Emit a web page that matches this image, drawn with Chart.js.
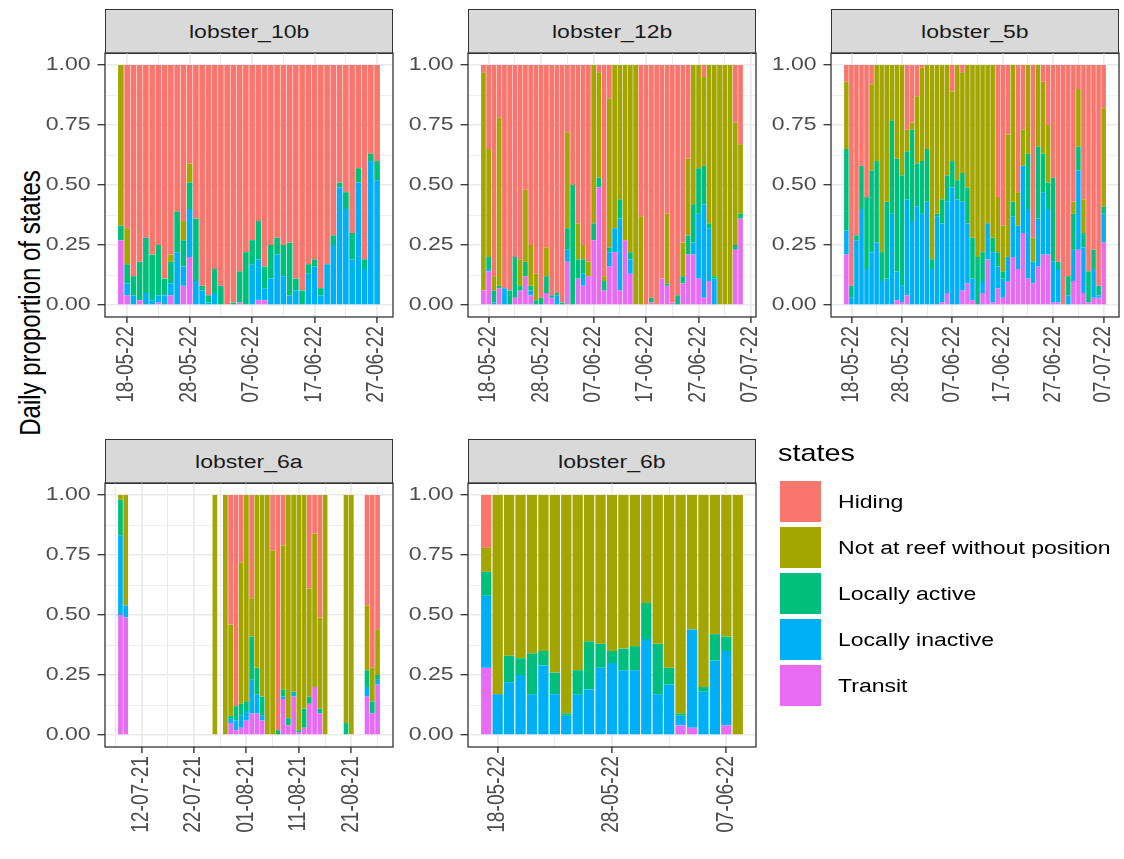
<!DOCTYPE html>
<html lang="en">
<head>
<meta charset="UTF-8" />
<title>Daily proportion of states</title>
<script src="https://cdn.jsdelivr.net/npm/chart.js"></script>
<style>
  body { margin: 0; background: #fff; font-family: 'Liberation Sans', Arial, sans-serif; }
  #page { position: relative; width: 1124px; height: 859px; overflow: hidden; background: #fff; }
  .box { position: absolute; }
  .strip {
    position: absolute; box-sizing: border-box; background: #D9D9D9;
    border: 1.3px solid #333333; color: #1A1A1A; font-size: 19.2px;
    display: flex; align-items: center; justify-content: center;
  }
  .wide { display: inline-block; transform: scaleX(1.2); white-space: nowrap; }
  #ytitle { position: absolute; width: 0; height: 0; }
  #ytitle span {
    position: absolute; left: 0; top: 0; font-size: 24px; color: #000; white-space: nowrap;
    transform: translate(-50%, -50%) scaleX(1.2) rotate(-90deg);
  }
  .key { position: absolute; width: 41px; height: 41px; }
  .keylabel { position: absolute; font-size: 19.2px; color: #000; transform-origin: left center; transform: translateY(-50%) scaleX(1.2); white-space: nowrap; }
  #legendtitle { position: absolute; font-size: 24px; color: #000; transform-origin: left center; transform: translateY(-50%) scaleX(1.2); }
</style>
</head>
<body>
<div id="page">
  <div id="ytitle"><span>Daily proportion of states</span></div>
</div>

<script>
// states, top of the stack first
const states = ['Hiding', 'Not at reef without position', 'Locally active', 'Locally inactive', 'Transit'];
const stateColors = ['#F8766D', '#A3A500', '#00BF7D', '#00B0F6', '#E76BF3'];

// lobster_10b, one value per day from 17-05-22
const first10b = '17-05-22';
const hiding10b   = [0,.68,.88,.82,.72,.79,.75,.89,.79,.61, .65,.41,.64,.92,.96,.85,.92,1,.99,.86, .78,.73,.65,.84,.75,.72,.75,.74,.89,.94, .83,.81,.93,.83,.71,.49,.53,.7,.43,.81, .37,.4];
const away10b     = [.67,.15,0,0,0,0,0,0,.03,0, .08,.08,0,0,0,0,0,0,0,0, 0,0,0,0,0,0,0,0,0,0, 0,0,0,0,0,0,0,0,0,0, 0,0];
const active10b   = [.06,.08,.08,.16,.23,.19,.21,.07,.09,.17, .11,.11,.26,.02,.03,.1,.08,0,.01,.13, .22,.1,.16,.09,.14,.07,.13,.22,.05,.06, .04,.03,.03,0,.04,.02,.07,.11,.06,.04, .03,.08];
const inactive10b = [0,.05,.04,0,.05,.02,.03,.04,.05,.22, .08,.2,.1,.06,.01,.05,0,0,0,0, 0,.17,.17,.05,.11,.21,.12,.04,.06,0, .13,.16,.04,.17,.25,.49,.4,.19,.51,.15, .6,.52];
const transit10b  = [.27,.04,0,.02,0,0,.01,0,.04,0, .08,.2,0,0,0,0,0,0,0,.01, 0,0,.02,.02,0,0,0,0,0,0, 0,0,0,0,0,0,0,0,0,0, 0,0];
const ticks10b = ['18-05-22', '28-05-22', '07-06-22', '17-06-22', '27-06-22'];

// lobster_12b, from 17-05-22
const first12b = '17-05-22';
const hiding12b   = [.03,.35,.88,.22,.93,.94,.8,.81,.52,.75, .87,.97,.76,.96,.95,.99,.28,.5,.66,.75, .82,0,.03,.88,.14,0,0,0,0,0, .63,1,.97,1,.89,.62,.99,.96,.74,.39, 0,0,.05,0,0,0,0,0,.24,.33];
const away12b     = [.91,.45,.06,.7,0,0,0,.11,.3,.17, .11,0,.12,0,0,0,.4,0,.15,.06, .06,.66,.44,.02,.62,.68,.56,.73,.78,1, .37,0,0,0,0,.29,0,0,.14,.32, .58,.43,.37,.66,.88,1,1,1,.51,.29];
const active12b   = [0,.05,.05,.01,0,.06,.17,.02,.06,.02, .02,.03,.07,.01,.01,.01,.09,.5,.08,.06, 0,.07,.04,.04,.02,0,.08,0,.03,0, 0,0,.02,0,0,.01,0,.04,.03,.08, .16,.19,.16,.02,.01,0,0,0,.02,.02];
const inactive12b = [0,.01,.01,0,.07,0,0,0,0,.02, 0,0,0,0,.04,0,.05,0,0,.05, 0,0,0,0,.06,.1,.3,0,.06,0, 0,0,0,0,0,0,0,0,0,0, .05,.27,.39,.22,.11,0,0,0,0,0];
const transit12b  = [.06,.14,0,.07,0,0,.03,.06,.12,.04, 0,0,.05,.03,0,0,.18,0,.11,.08, .12,.27,.49,.06,.16,.22,.06,.27,.13,0, 0,0,.01,0,.11,.08,.01,0,.09,.21, .21,.11,.03,.1,0,0,0,0,.23,.36];
const ticks12b = ['18-05-22', '28-05-22', '07-06-22', '17-06-22', '27-06-22', '07-07-22'];

// lobster_5b, from 17-05-22
const first5b = '17-05-22';
const hiding5b   = [.07,.92,.71,.42,.55,.08,0,0,0,0, 0,0,.27,.24,.13,.01,0,0,0,0, 0,.11,0,.03,0,0,0,0,0,0, .55,.67,.29,0,.53,.27,0,.72,0,.07, .25,.47,.82,1,.88,.57,.1,.56,.86,.77, .92,.18];
const away5b     = [.28,0,0,0,0,.36,.4,.78,.57,.23, .39,.46,.09,.03,.28,.39,.35,.81,.62,.56, .46,.29,.48,.42,.51,.72,.8,.78,.66,.72, .23,.19,.51,.57,.14,.15,.37,.1,.34,.3, .24,0,0,0,0,.05,.24,.14,0,0, 0,.41];
const active5b   = [.34,.05,.02,.18,.3,.34,.34,.12,.32,.39, .47,.46,.2,.38,.18,.22,.22,.04,.01,.1, .11,.11,.08,.12,.15,.17,.2,.12,0,.06, .06,.03,0,.06,0,0,.23,0,.3,.16, .11,.35,.03,0,.08,.15,.1,.06,.13,.08, .04,.03];
const inactive5b = [.1,.03,.27,.4,.15,.22,.26,.1,.11,.38, .12,.07,.4,.35,.41,.38,.43,.15,.37,.33, .38,.49,.44,.37,.25,.09,0,.05,.15,.21, .09,.08,.1,.17,.18,.28,.29,.09,.2,.26, .19,.17,.14,0,.04,.13,.33,.19,0,.12, .01,.12];
const transit5b  = [.21,0,0,0,0,0,0,0,0,0, .02,.01,.04,0,0,0,0,0,0,.01, .05,0,0,.06,.09,.02,0,.05,.19,.01, .07,.03,.1,.2,.15,.3,.11,.09,.16,.21, .21,.01,.01,0,0,.1,.23,.05,.01,.03, .03,.26];
const ticks5b = ['18-05-22', '28-05-22', '07-06-22', '17-06-22', '27-06-22', '07-07-22'];

// lobster_6a, only the days that were recorded
const days6a = ['08-07-21', '09-07-21', '26-07-21', '28-07-21', '29-07-21', '30-07-21', '31-07-21',
  '01-08-21', '02-08-21', '03-08-21', '04-08-21', '05-08-21', '06-08-21', '07-08-21', '08-08-21',
  '09-08-21', '10-08-21', '11-08-21', '12-08-21', '13-08-21', '14-08-21', '15-08-21', '16-08-21',
  '20-08-21', '21-08-21', '24-08-21', '25-08-21', '26-08-21'];
const hiding6a   = [0,0,0,0,.54,.88,.28, 0,.43,0,0,0,.23,.98,.21,0,0,0,0,.39,.16,.51,0, 0,0, .46,.72,.56];
const away6a     = [.02,.46,1,1,.38,0,.59, .86,.16,.72,.84,1,.77,0,.6,.93,.82,.98,.89,.45,.64,.38,1, .95,1, .27,.14,.19];
const active6a   = [.15,0,0,0,.01,.06,.05, .04,.18,.11,.08,0,0,.02,.03,.03,0,.01,.08,.03,0,.02,0, .05,0, .07,.05,.02];
const inactive6a = [.33,.05,0,0,.02,.04,.05, .04,.14,.08,.02,0,0,0,.01,0,.02,0,0,0,0,0,0, 0,0, .04,0,.02];
const transit6a  = [.5,.49,0,0,.05,.02,.03, .06,.09,.09,.06,0,0,0,.15,.04,.16,.01,.03,.13,.2,.09,0, 0,0, .16,.09,.21];
const ticks6a = ['12-07-21', '22-07-21', '01-08-21', '11-08-21', '21-08-21'];

// lobster_6b, from 17-05-22
const first6b = '17-05-22';
const hiding6b   = [.22,0,0,0,0,0,0,0,0,0, 0,0,0,0,0,0,0,0,0,0, 0,0,0];
const away6b     = [.1,.83,.67,.68,.66,.65,.74,.91,.73,.61, .62,.65,.64,.63,.45,.62,.72,.91,.56,.8, .58,.59,1];
const active6b   = [.1,0,.11,.07,.17,.06,.09,.01,.1,.2, .1,.05,.09,.1,.15,.21,.07,.01,0,.02, .11,.06,0];
const inactive6b = [.3,.17,.22,.25,.17,.29,.17,.08,.17,.19, .28,.3,.27,.27,.4,.17,.21,.04,.41,.18, .31,.31,0];
const transit6b  = [.28,0,0,0,0,0,0,0,0,0, 0,0,0,0,0,0,0,.04,.03,0, 0,.04,0];
const ticks6b = ['18-05-22', '28-05-22', '07-06-22'];

const yMajor = [0, 0.25, 0.5, 0.75, 1];
const yMinor = [0.125, 0.375, 0.625, 0.875];

// ---- layout ----
const PANEL_W = 288, PANEL_H = 264;
const AX_W = 80, AX_H = 120, PAD_T = 26, PAD_R = 34;
const STRIP_H = 44;
const FONT = "'Liberation Sans', Arial, sans-serif";
const WIDEN = 1.2;

Chart.defaults.font.family = FONT;

function dayNumber(s) {
  const [d, m, y] = s.split('-').map(Number);
  return Date.UTC(2000 + y, m - 1, d) / 864e5;
}
function dayRange(first, n) {
  const d0 = dayNumber(first);
  return Array.from({ length: n }, (_, i) => d0 + i);
}

// text in this figure is drawn a fifth wider than its height
const wideText = {
  id: 'wideText',
  beforeInit(chart) {
    const ctx = chart.ctx;
    const fill = ctx.fillText.bind(ctx);
    ctx.fillText = function (text, x, y, maxWidth) {
      const m = ctx.getTransform();
      const px = m.a * x + m.c * y + m.e;
      ctx.save();
      ctx.setTransform(new DOMMatrix([WIDEN, 0, 0, 1, (1 - WIDEN) * px, 0]).multiply(m));
      if (maxWidth === undefined) fill(text, x, y); else fill(text, x, y, maxWidth);
      ctx.restore();
    };
  }
};

// dark frame round each panel
const frame = {
  id: 'frame',
  afterDraw(chart) {
    const { ctx, chartArea: a } = chart;
    ctx.save();
    ctx.strokeStyle = '#333333';
    ctx.lineWidth = 1.3;
    ctx.strokeRect(a.left, a.top, a.right - a.left, a.bottom - a.top);
    ctx.restore();
  }
};

const panels = [
  { name: 'lobster_10b', days: dayRange(first10b, hiding10b.length), ticks: ticks10b,
    values: [hiding10b, away10b, active10b, inactive10b, transit10b], left: 105, top: 53 },
  { name: 'lobster_12b', days: dayRange(first12b, hiding12b.length), ticks: ticks12b,
    values: [hiding12b, away12b, active12b, inactive12b, transit12b], left: 468, top: 53 },
  { name: 'lobster_5b', days: dayRange(first5b, hiding5b.length), ticks: ticks5b,
    values: [hiding5b, away5b, active5b, inactive5b, transit5b], left: 831, top: 53 },
  { name: 'lobster_6a', days: days6a.map(dayNumber), ticks: ticks6a,
    values: [hiding6a, away6a, active6a, inactive6a, transit6a], left: 105, top: 483 },
  { name: 'lobster_6b', days: dayRange(first6b, hiding6b.length), ticks: ticks6b,
    values: [hiding6b, away6b, active6b, inactive6b, transit6b], left: 468, top: 483 }
];

const page = document.getElementById('page');

function addPanel(p) {
  const strip = document.createElement('div');
  strip.className = 'strip';
  Object.assign(strip.style, { left: p.left + 'px', top: (p.top - STRIP_H) + 'px', width: PANEL_W + 'px', height: (STRIP_H + 1) + 'px' });
  strip.innerHTML = '<span class="wide">' + p.name + '</span>';
  page.appendChild(strip);

  const box = document.createElement('div');
  box.className = 'box';
  const w = AX_W + PANEL_W + PAD_R, h = PAD_T + PANEL_H + AX_H;
  Object.assign(box.style, { left: (p.left - AX_W) + 'px', top: (p.top - PAD_T) + 'px', width: w + 'px', height: h + 'px' });
  const canvas = document.createElement('canvas');
  canvas.width = w;
  canvas.height = h;
  box.appendChild(canvas);
  page.appendChild(box);

  // x limits as ggplot sets them: bar edges plus 5% on each side
  const first = p.days[0], last = p.days[p.days.length - 1];
  const pad = 0.45 + 0.05 * (last - first + 0.9);
  const xMin = first - pad, xMax = last + pad;
  const majors = p.ticks.map(dayNumber);
  const labelAt = new Map(majors.map((d, i) => [d, p.ticks[i]]));
  const xTicks = [];
  for (let d = majors[0] - 5 * Math.floor((majors[0] - xMin) / 5); d <= xMax; d += 5) xTicks.push(d);

  const stackOrder = [4, 3, 2, 1, 0];
  const datasets = stackOrder.map(k => ({
    label: states[k],
    data: p.days.map((d, i) => ({ x: d, y: p.values[k][i] })),
    backgroundColor: stateColors[k],
    borderWidth: 0,
    categoryPercentage: 0.9,
    barPercentage: 1
  }));

  new Chart(canvas, {
    type: 'bar',
    data: { datasets },
    plugins: [wideText, frame],
    options: {
      responsive: false,
      animation: false,
      events: [],
      layout: { padding: { top: PAD_T, right: PAD_R, left: 0, bottom: 0 } },
      plugins: { legend: { display: false }, tooltip: { enabled: false } },
      scales: {
        x: {
          type: 'linear', stacked: true, offset: false, min: xMin, max: xMax,
          border: { display: false },
          grid: {
            offset: false,
            color: '#EBEBEB',
            lineWidth: c => (c.tick && labelAt.has(c.tick.value)) ? 1.8 : 1,
            tickLength: 6,
            tickColor: c => (c.tick && labelAt.has(c.tick.value)) ? '#333333' : 'rgba(0,0,0,0)',
            tickWidth: 1.4
          },
          ticks: {
            autoSkip: false, minRotation: 90, maxRotation: 90, padding: 3,
            color: '#4D4D4D', font: { size: 19.2 },
            callback: v => labelAt.get(v) || ''
          },
          afterBuildTicks: s => { s.ticks = xTicks.map(v => ({ value: v })); },
          afterFit: s => { s.height = AX_H; }
        },
        y: {
          type: 'linear', stacked: true, min: -0.05, max: 1.05,
          border: { display: false },
          grid: {
            color: '#EBEBEB',
            lineWidth: c => (c.tick && yMajor.includes(c.tick.value)) ? 1.4 : 0.8,
            tickLength: 7.5,
            tickColor: c => (c.tick && yMajor.includes(c.tick.value)) ? '#333333' : 'rgba(0,0,0,0)',
            tickWidth: 1.3
          },
          ticks: {
            padding: 7, color: '#4D4D4D', font: { size: 19.2 },
            callback: v => yMajor.includes(v) ? v.toFixed(2) : ''
          },
          afterBuildTicks: s => { s.ticks = yMajor.concat(yMinor).sort((a, b) => a - b).map(v => ({ value: v })); },
          afterFit: s => { s.width = AX_W; }
        }
      }
    }
  });
}

panels.forEach(addPanel);

// axis title
const yt = document.getElementById('ytitle');
yt.style.left = '30px';
yt.style.top = '303px';

// legend
const lt = document.createElement('div');
lt.id = 'legendtitle';
lt.textContent = 'states';
Object.assign(lt.style, { left: '778px', top: '453px' });
page.appendChild(lt);
states.forEach((s, k) => {
  const top = 481 + k * 46;
  const key = document.createElement('div');
  key.className = 'key';
  Object.assign(key.style, { left: '780px', top: top + 'px', background: stateColors[k] });
  page.appendChild(key);
  const lab = document.createElement('div');
  lab.className = 'keylabel';
  lab.textContent = s;
  Object.assign(lab.style, { left: '838px', top: (top + 20.5) + 'px' });
  page.appendChild(lab);
});
</script>
</body>
</html>
